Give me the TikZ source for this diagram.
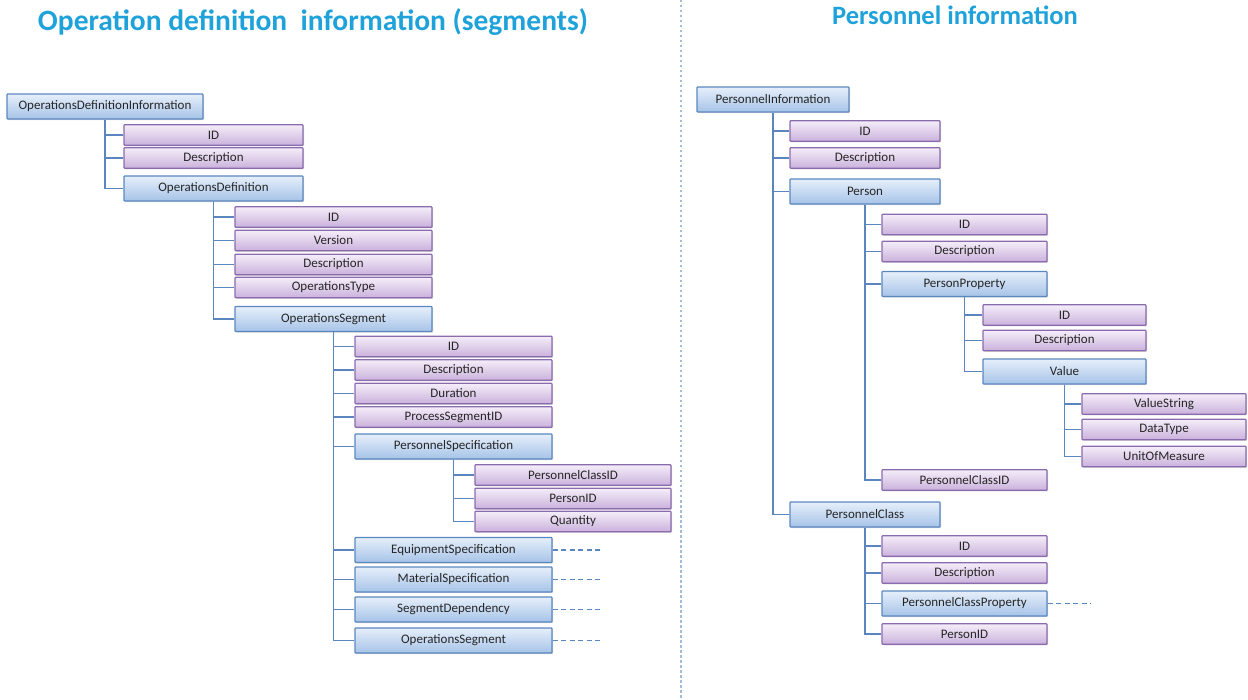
\documentclass[tikz,border=0pt]{standalone}
\usepackage{fontspec}
\setmainfont{Carlito}
\usetikzlibrary{shadows}

\definecolor{titleblue}{HTML}{1FA2DA}
\definecolor{enttop}{HTML}{E6EFFA}
\definecolor{entbot}{HTML}{A6C3E8}
\definecolor{entline}{HTML}{5B87C0}
\definecolor{attrtop}{HTML}{F5EEF9}
\definecolor{attrbot}{HTML}{CAB1DC}
\definecolor{attrline}{HTML}{8A6BAE}
\definecolor{linkblue}{HTML}{5A85BE}

\begin{document}
\begin{tikzpicture}[x=1pt, y=-1pt,
    box/.style={line width=1.3pt, rounded corners=0.8pt, inner sep=0pt, text=black!85, font=\fontsize{13}{15}\selectfont,
        drop shadow={shadow xshift=1.2pt, shadow yshift=-1.2pt, opacity=.3}},
    ent/.style={box, draw=entline, top color=enttop, bottom color=entbot, minimum width=#1, minimum height=25pt},
    attr/.style={box, draw=attrline, top color=attrtop, bottom color=attrbot, minimum width=#1, minimum height=20.5pt},
    link/.style={draw=linkblue, line width=1.7pt, to path={|- (\tikztotarget)}},
    stub/.style={draw=linkblue, line width=1.5pt, dash pattern=on 5pt off 3.5pt},
    title/.style={text=titleblue, font=\fontsize{#1}{32}\selectfont\bfseries}]

    \useasboundingbox (0,0) rectangle (1248,700);

    % titles and divider
    \node[title=29.5] (lt) at (313,22) {Operation definition\ \ information (segments)};
    \node[title=26.5] (rt) at (955,15) {Personnel information};
    \draw[linkblue!55, line width=1.2pt, dash pattern=on 2.5pt off 2.5pt] (681,0) -- (681,700);

    % operations definition tree
    \node[ent=196pt] (odi) at (105,106.5) {OperationsDefinitionInformation};
    \node[attr=179pt] (id1) at (213.5,135) {ID};
    \node[attr=179pt] (desc1) at (213.5,158) {Description};
    \node[ent=179pt] (opdef) at (213.5,188.5) {OperationsDefinition};
    \node[attr=197pt] (id2) at (333.5,217) {ID};
    \node[attr=197pt] (ver) at (333.5,240.5) {Version};
    \node[attr=197pt] (desc2) at (333.5,264.5) {Description};
    \node[attr=197pt] (optype) at (333.5,287.5) {OperationsType};
    \node[ent=197pt] (opseg) at (333.5,319) {OperationsSegment};
    \node[attr=197pt] (id3) at (453.5,346.5) {ID};
    \node[attr=197pt] (desc3) at (453.5,370) {Description};
    \node[attr=197pt] (dur) at (453.5,393.5) {Duration};
    \node[attr=197pt] (psid) at (453.5,417) {ProcessSegmentID};
    \node[ent=197pt] (pspec) at (453.5,446.5) {PersonnelSpecification};
    \node[attr=196pt] (pcid) at (573,475) {PersonnelClassID};
    \node[attr=196pt] (pid) at (573,498.5) {PersonID};
    \node[attr=196pt] (qty) at (573,521.5) {Quantity};
    \node[ent=197pt] (espec) at (453.5,550) {EquipmentSpecification};
    \node[ent=197pt] (mspec) at (453.5,579.5) {MaterialSpecification};
    \node[ent=197pt] (sdep) at (453.5,609.5) {SegmentDependency};
    \node[ent=197pt] (subseg) at (453.5,640.5) {OperationsSegment};

    % personnel tree
    \node[ent=152pt] (pinfo) at (773,99.5) {PersonnelInformation};
    \node[attr=150pt] (id4) at (865,131) {ID};
    \node[attr=150pt] (desc4) at (865,158) {Description};
    \node[ent=150pt] (person) at (865,191.5) {Person};
    \node[attr=165pt] (id5) at (964.5,224.5) {ID};
    \node[attr=165pt] (desc5) at (964.5,251.5) {Description};
    \node[ent=165pt] (pprop) at (964.5,284) {PersonProperty};
    \node[attr=163pt] (id6) at (1064.5,315) {ID};
    \node[attr=163pt] (desc6) at (1064.5,340.5) {Description};
    \node[ent=163pt] (value) at (1064.5,371.5) {Value};
    \node[attr=164pt] (vstr) at (1164,404) {ValueString};
    \node[attr=164pt] (dtype) at (1164,429.5) {DataType};
    \node[attr=164pt] (uom) at (1164,456.5) {UnitOfMeasure};
    \node[attr=165pt] (pcid2) at (964.5,480) {PersonnelClassID};
    \node[ent=150pt] (pclass) at (865,514.5) {PersonnelClass};
    \node[attr=165pt] (id7) at (964.5,546) {ID};
    \node[attr=165pt] (desc7) at (964.5,573) {Description};
    \node[ent=165pt] (pcprop) at (964.5,603.5) {PersonnelClassProperty};
    \node[attr=165pt] (pid2) at (964.5,634) {PersonID};

    \path
        (odi.south) edge[link] (id1.west)
        (odi.south) edge[link] (desc1.west)
        (odi.south) edge[link] (opdef.west)
        (opdef.south) edge[link] (id2.west)
        (opdef.south) edge[link] (ver.west)
        (opdef.south) edge[link] (desc2.west)
        (opdef.south) edge[link] (optype.west)
        (opdef.south) edge[link] (opseg.west)
        (opseg.south) edge[link] (id3.west)
        (opseg.south) edge[link] (desc3.west)
        (opseg.south) edge[link] (dur.west)
        (opseg.south) edge[link] (psid.west)
        (opseg.south) edge[link] (pspec.west)
        (opseg.south) edge[link] (espec.west)
        (opseg.south) edge[link] (mspec.west)
        (opseg.south) edge[link] (sdep.west)
        (opseg.south) edge[link] (subseg.west)
        (pspec.south) edge[link] (pcid.west)
        (pspec.south) edge[link] (pid.west)
        (pspec.south) edge[link] (qty.west)
        (pinfo.south) edge[link] (id4.west)
        (pinfo.south) edge[link] (desc4.west)
        (pinfo.south) edge[link] (person.west)
        (pinfo.south) edge[link] (pclass.west)
        (person.south) edge[link] (id5.west)
        (person.south) edge[link] (desc5.west)
        (person.south) edge[link] (pprop.west)
        (person.south) edge[link] (pcid2.west)
        (pprop.south) edge[link] (id6.west)
        (pprop.south) edge[link] (desc6.west)
        (pprop.south) edge[link] (value.west)
        (value.south) edge[link] (vstr.west)
        (value.south) edge[link] (dtype.west)
        (value.south) edge[link] (uom.west)
        (pclass.south) edge[link] (id7.west)
        (pclass.south) edge[link] (desc7.west)
        (pclass.south) edge[link] (pcprop.west)
        (pclass.south) edge[link] (pid2.west)
        ;

    % links that continue elsewhere
    \draw[stub] (espec.east) -- ++(48,0);
    \draw[stub] (mspec.east) -- ++(48,0);
    \draw[stub] (sdep.east) -- ++(48,0);
    \draw[stub] (subseg.east) -- ++(48,0);
    \draw[stub] (pcprop.east) -- ++(43,0);
\end{tikzpicture}
\end{document}
